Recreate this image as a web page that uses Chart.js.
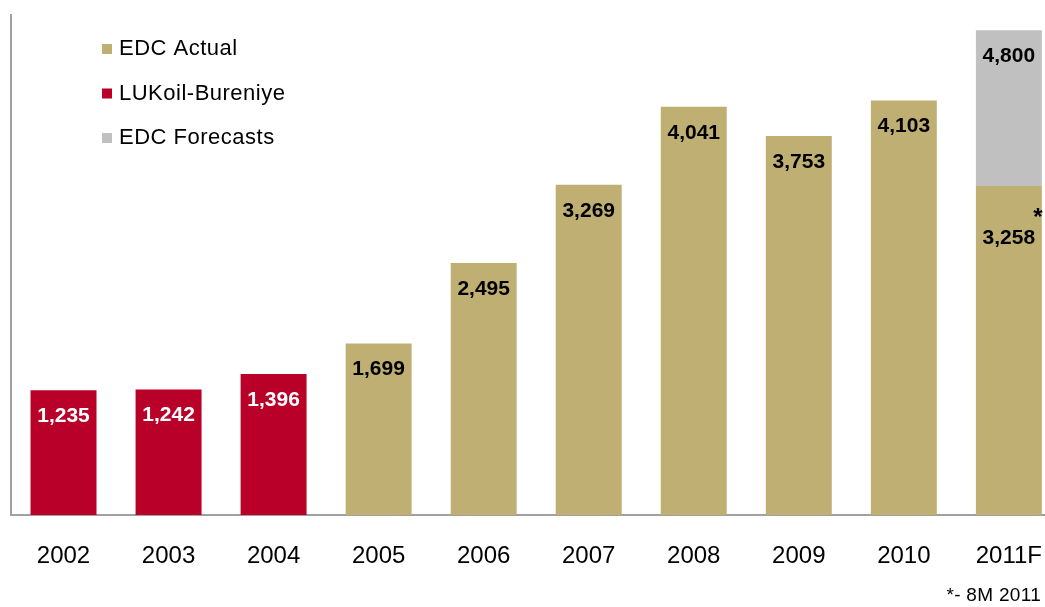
<!DOCTYPE html>
<html>
<head>
<meta charset="utf-8">
<script src="https://cdn.jsdelivr.net/npm/chart.js@4"></script>
<style>
  html, body { margin: 0; padding: 0; background: #fff; overflow: hidden; }
  #wrap { position: relative; width: 1069px; height: 607px; }
</style>
</head>
<body>
<div id="wrap"><canvas id="drillChart"></canvas></div>
<script>
const years = ['2002', '2003', '2004', '2005', '2006', '2007', '2008', '2009', '2010', '2011F'];
const edcActual = [null, null, null, 1699, 2495, 3269, 4041, 3753, 4103, 3258];
const lukoil = [1235, 1242, 1396, null, null, null, null, null, null, null];
const forecastTotal = [null, null, null, null, null, null, null, null, null, 4800];

// grey segment sits on top of the actual bar, up to the forecast total
const forecastPart = forecastTotal.map((t, i) => t == null ? null : t - (edcActual[i] || 0));

const GOLD = '#bfaf72';
const RED = '#b80028';
const GREY = '#c0c0c0';
const FONT = '"Liberation Sans", Arial, sans-serif';

const valueLabels = {
  id: 'valueLabels',
  afterDatasetsDraw(chart) {
    const ctx = chart.ctx;
    ctx.save();
    ctx.textAlign = 'center';
    ctx.textBaseline = 'middle';
    chart.data.datasets.forEach((ds, di) => {
      const meta = chart.getDatasetMeta(di);
      meta.data.forEach((bar, i) => {
        const v = ds.data[i];
        if (v == null) return;
        let shown = v;
        if (ds.label === 'EDC Forecasts') shown = forecastTotal[i];
        const starred = ds.label === 'EDC Actual' && forecastTotal[i] != null;
        const off = starred ? 52 : 26;
        ctx.font = 'bold 21px ' + FONT;
        ctx.fillStyle = ds.label === 'LUKoil-Bureniye' ? '#ffffff' : '#000000';
        ctx.fillText(shown.toLocaleString('en-US'), bar.x, bar.y + off);
        if (starred) {
          ctx.font = 'bold 24px ' + FONT;
          ctx.fillText('*', bar.x + 29, bar.y + 32);
        }
      });
    });
    ctx.restore();
  }
};

const legendBox = {
  id: 'legendBox',
  afterDraw(chart) {
    const ctx = chart.ctx;
    const items = [['EDC Actual', GOLD], ['LUKoil-Bureniye', RED], ['EDC Forecasts', GREY]];
    ctx.save();
    ctx.letterSpacing = '0.5px';
    ctx.font = '22px ' + FONT;
    ctx.textBaseline = 'middle';
    ctx.textAlign = 'left';
    items.forEach((it, k) => {
      const y = 49 + k * 44.5;
      ctx.fillStyle = it[1];
      ctx.fillRect(102, y - 5, 10, 10);
      ctx.fillStyle = '#000';
      ctx.fillText(it[0], 119, y);
    });
    ctx.font = '19px ' + FONT;
    ctx.letterSpacing = '0.3px';
    ctx.textAlign = 'right';
    ctx.fillText('*- 8M 2011', 1041, 596);
    ctx.restore();
  }
};

new Chart(document.getElementById('drillChart'), {
  type: 'bar',
  data: {
    labels: years,
    datasets: [
      { label: 'EDC Actual', data: edcActual, backgroundColor: GOLD },
      { label: 'LUKoil-Bureniye', data: lukoil, backgroundColor: RED },
      { label: 'EDC Forecasts', data: forecastPart, backgroundColor: GREY }
    ]
  },
  options: {
    responsive: true,
    maintainAspectRatio: false,
    animation: false,
    layout: { padding: { top: 15, left: 0, right: 0, bottom: 0 } },
    datasets: {
      bar: { categoryPercentage: 1, barPercentage: 0.628, skipNull: true }
    },
    plugins: {
      legend: { display: false },
      tooltip: { enabled: false }
    },
    scales: {
      x: {
        stacked: true,
        grid: { display: false, drawTicks: false },
        border: { display: true, color: '#a0a0a0', width: 2 },
        ticks: { color: '#000', font: { family: FONT, size: 24 }, padding: 27 },
        afterFit(scale) { scale.height = 92; }
      },
      y: {
        stacked: true,
        min: 0,
        max: 4950,
        grid: { display: false, drawTicks: false },
        border: { display: true, color: '#a0a0a0', width: 2 },
        ticks: { display: false },
        afterFit(scale) { scale.width = 11; }
      }
    }
  },
  plugins: [valueLabels, legendBox]
});
</script>
</body>
</html>
